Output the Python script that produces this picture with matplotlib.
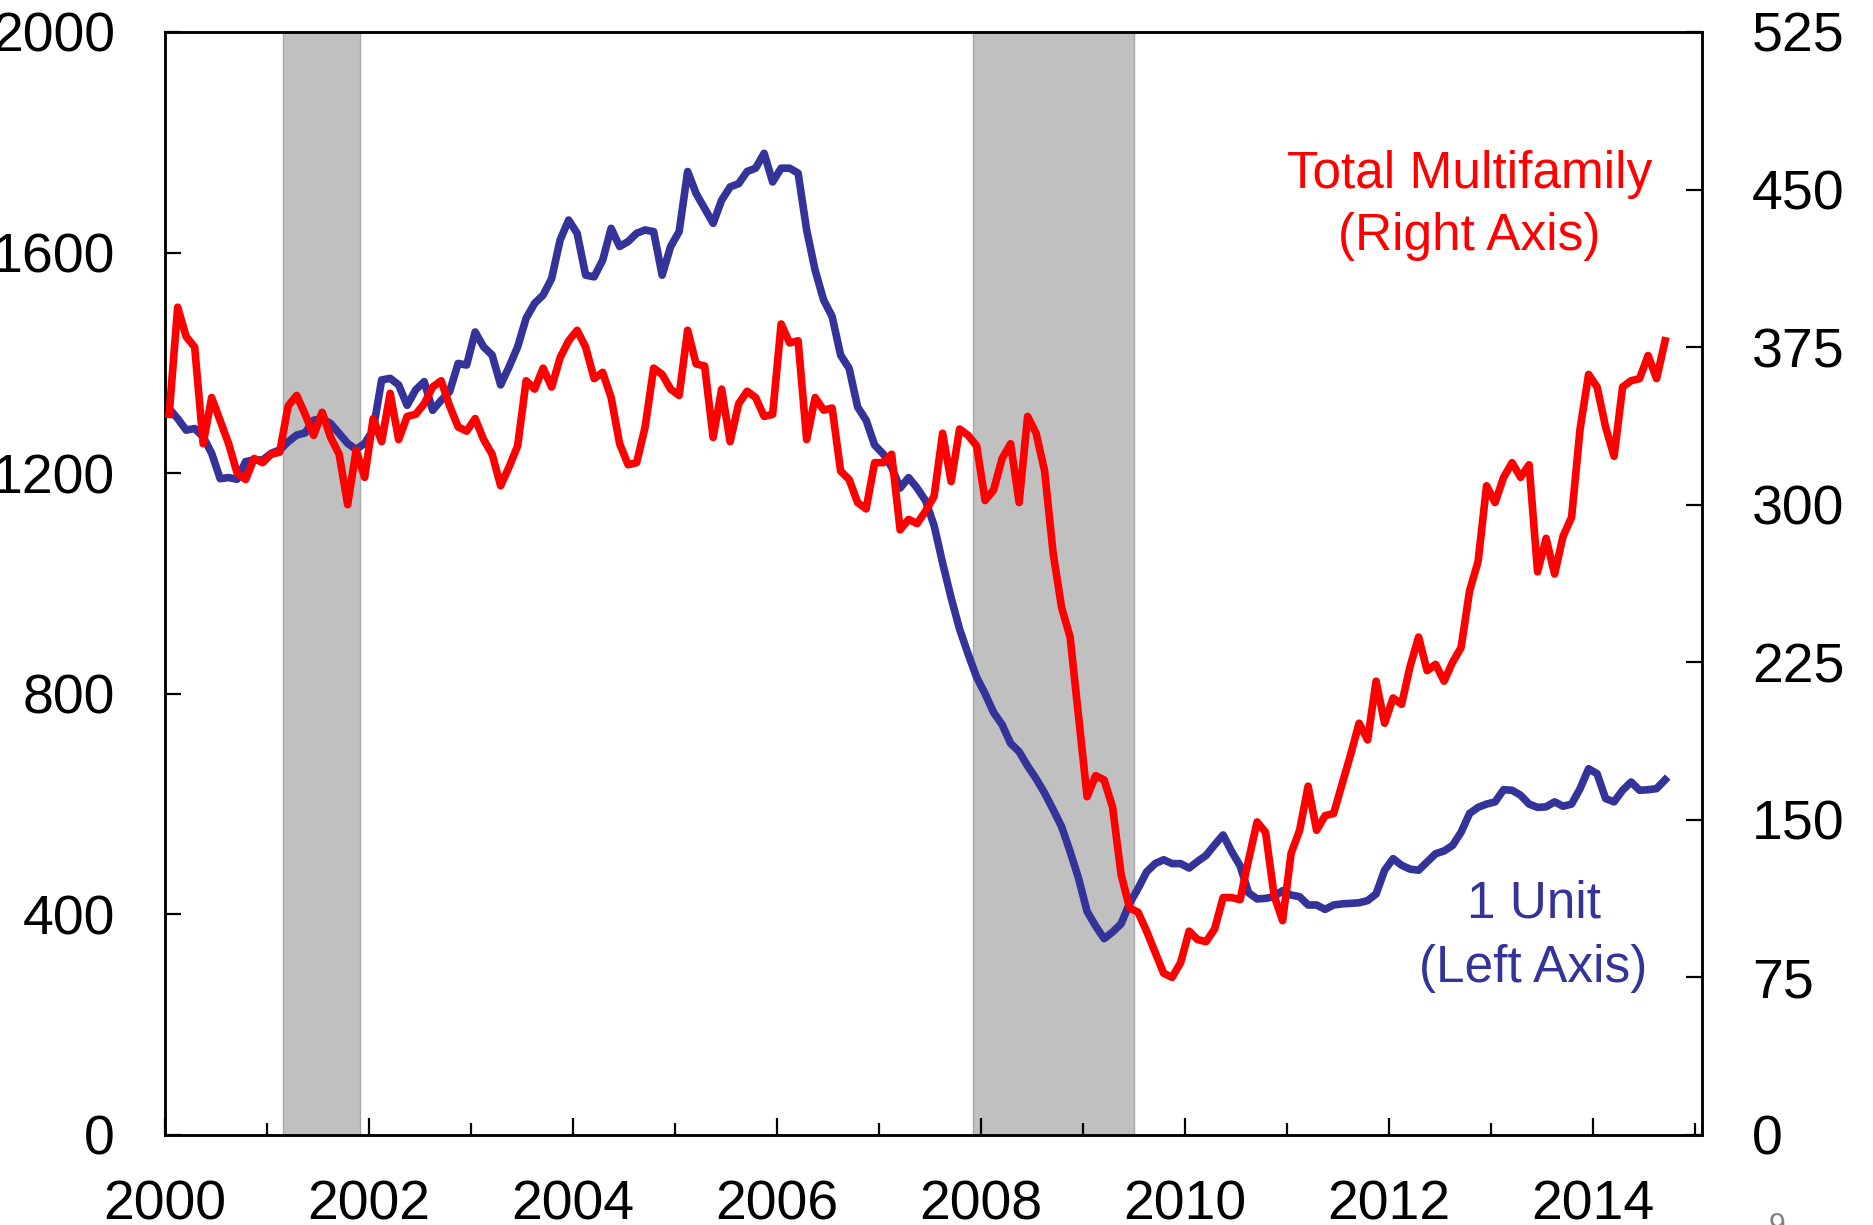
import matplotlib.pyplot as plt
import numpy as np

plt.rcParams['font.family'] = ['Liberation Sans', 'DejaVu Sans']

# monthly values, Jan 2000 - Sep 2014 (thousands, SAAR)
one_unit = [1317, 1299, 1278, 1281, 1266, 1236, 1190, 1192, 1189, 1221, 1224, 1224,
            1236, 1242, 1257, 1269, 1273, 1296, 1299, 1290, 1272, 1254, 1243, 1254,
            1278, 1369, 1372, 1360, 1323, 1351, 1366, 1314, 1332, 1348, 1399, 1396,
            1456, 1429, 1414, 1360, 1393, 1429, 1481, 1508, 1523, 1553, 1623, 1659,
            1635, 1559, 1556, 1586, 1644, 1611, 1620, 1635, 1641, 1638, 1559, 1611,
            1638, 1747, 1707, 1680, 1653, 1695, 1719, 1725, 1747, 1753, 1780, 1728,
            1753, 1753, 1744, 1641, 1568, 1514, 1484, 1414, 1390, 1320, 1296, 1251,
            1235, 1211, 1173, 1192, 1173, 1150, 1105, 1037, 974, 917, 872, 830,
            800, 766, 744, 710, 695, 669, 646, 620, 590, 559, 514, 465,
            405, 379, 356, 368, 383, 420, 447, 477, 492, 499, 492, 492,
            484, 496, 507, 526, 544, 514, 488, 439, 428, 429, 432, 443,
            435, 432, 417, 417, 409, 417, 419, 420, 421, 425, 437, 480,
            501, 489, 482, 480, 495, 510, 515, 525, 549, 583, 594, 600,
            604, 626, 625, 616, 600, 594, 595, 604, 596, 600, 628, 664,
            655, 610, 604, 625, 640, 625, 626, 628, 644]

multifamily = [343, 394, 380, 375, 329, 351, 340, 329, 315, 312, 322, 320,
               324, 325, 347, 352, 343, 333, 344, 332, 324, 300, 326, 313,
               341, 330, 353, 331, 342, 343, 348, 356, 359, 347, 337, 335,
               341, 331, 324, 309, 318, 328, 359, 355, 365, 356, 370, 378,
               383, 375, 360, 363, 351, 329, 319, 320, 337, 365, 362, 355,
               352, 383, 367, 366, 332, 355, 330, 348, 354, 351, 342, 343,
               386, 377, 378, 331, 351, 345, 346, 316, 312, 301, 298, 320,
               320, 324, 288, 293, 291, 297, 304, 334, 311, 336, 333, 328,
               302, 307, 322, 329, 301, 342, 334, 316, 277, 251, 237, 199,
               161, 171, 169, 156, 124, 108, 106, 97, 87, 77, 75, 82,
               97, 93, 92, 98, 113, 113, 112, 131, 149, 144, 114, 102,
               134, 145, 166, 145, 152, 153, 167, 181, 196, 188, 216, 196,
               208, 205, 223, 237, 221, 224, 216, 225, 232, 259, 273, 309,
               301, 313, 320, 313, 319, 268, 284, 267, 285, 294, 336, 362,
               356, 337, 323, 356, 359, 360, 371, 360, 378]

recessions = [(2001.16, 2001.915), (2007.92, 2009.505)]
left_ticks = [0, 400, 800, 1200, 1600, 2000]
right_ticks = [0, 75, 150, 225, 300, 375, 450, 525]
major_years = [2000, 2002, 2004, 2006, 2008, 2010, 2012, 2014]
minor_years = [2001, 2003, 2005, 2007, 2009, 2011, 2013, 2015]

blue = '#333399'
red = '#FF0000'

dates = 2000 + (np.arange(len(one_unit)) + 0.5) / 12.0

fig = plt.figure(figsize=(18.74, 12.25), dpi=100)
ax = fig.add_axes([0.088, 0.0735, 0.8202, 0.9004])

for start, end in recessions:
    ax.axvspan(start, end, facecolor='#C0C0C0', edgecolor='#A8A8A8', linewidth=1, zorder=0)

ax.plot(dates, one_unit, color=blue, linewidth=5.5, solid_joinstyle='round', zorder=3)
ax.set_xlim(2000, 2015.07)
ax.set_ylim(0, 2000)

ax2 = ax.twinx()
ax2.plot(dates, multifamily, color=red, linewidth=5.5, solid_joinstyle='round', zorder=3)
ax2.set_ylim(0, 525)

ax.set_yticks(left_ticks)
ax2.set_yticks(right_ticks)
ax.set_xticks(major_years)
ax.set_xticks(minor_years, minor=True)
ax.set_xticklabels([str(y) for y in major_years])

ax.tick_params(axis='y', direction='in', length=11.5, width=1.6, labelsize=40, pad=36)
ax2.tick_params(axis='y', direction='in', length=11.5, width=1.6, labelsize=40, pad=36)
ax.tick_params(axis='x', which='major', direction='in', length=12.3, width=1.6, labelsize=40, pad=32)
ax.tick_params(axis='x', which='minor', direction='in', length=8.8, width=1.6)

for a in (ax, ax2):
    for sp in a.spines.values():
        sp.set_linewidth(1.8)

W, H = 1874.0, 1225.0
fig.text(1470 / W, 1 - 188 / H, 'Total Multifamily', color=red, fontsize=37, ha='center', va='baseline')
fig.text(1469 / W, 1 - 250 / H, '(Right Axis)', color=red, fontsize=37, ha='center', va='baseline')
fig.text(1534 / W, 1 - 918 / H, '1 Unit', color=blue, fontsize=37, ha='center', va='baseline')
fig.text(1533 / W, 1 - 982 / H, '(Left Axis)', color=blue, fontsize=37, ha='center', va='baseline')
fig.text(1777 / W, 1 - 1235 / H, '9', color='#808080', fontsize=22, ha='center', va='baseline')

fig.savefig('out.png', dpi=100)
